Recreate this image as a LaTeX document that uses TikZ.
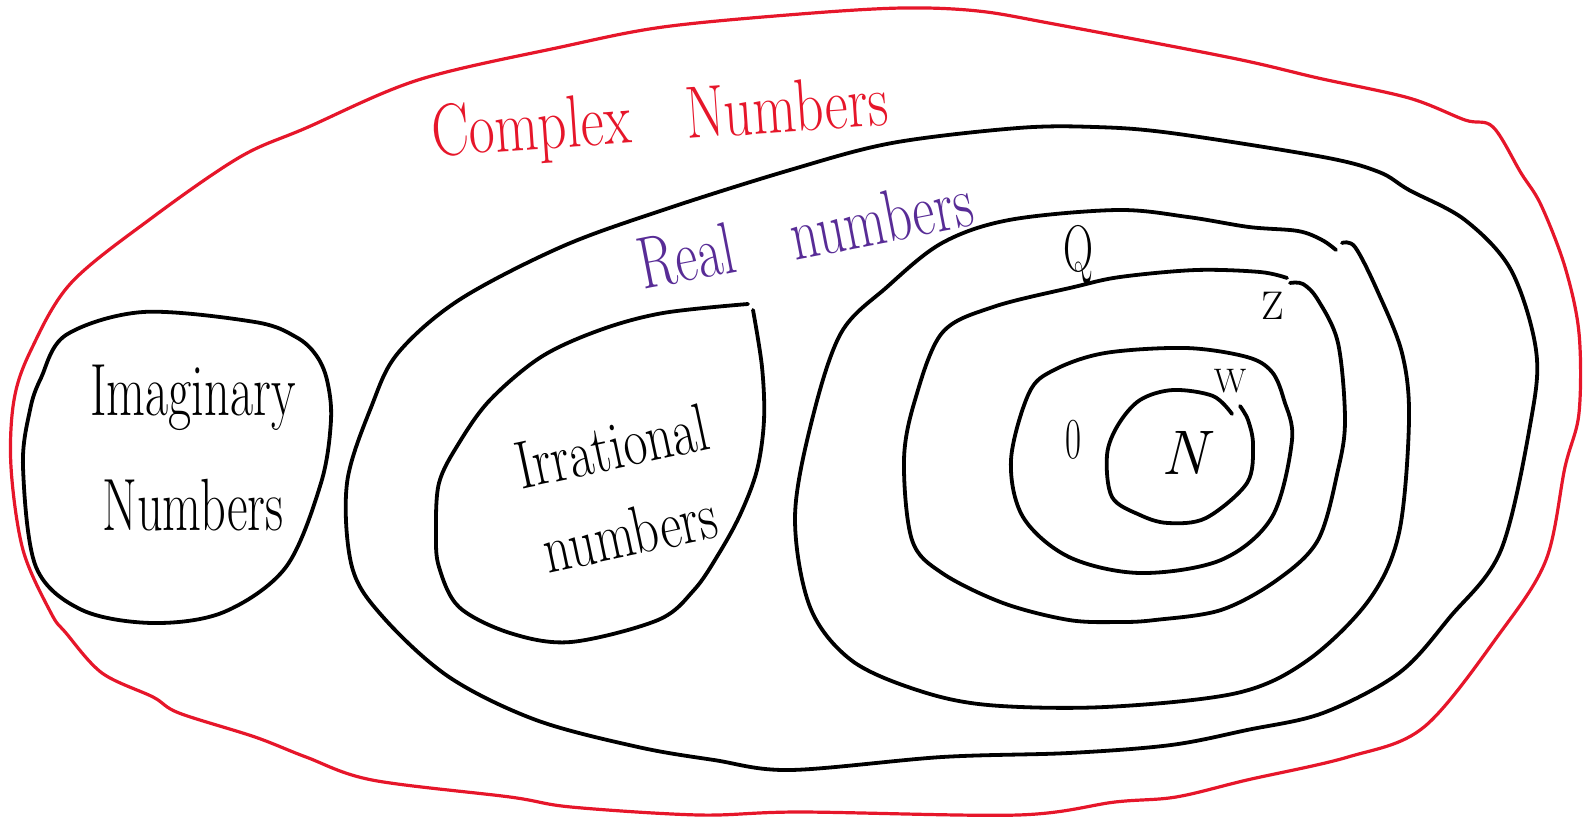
\documentclass[tikz,border=0pt]{standalone}
\usepackage{graphicx}
\definecolor{cred}{RGB}{230,22,42}
\definecolor{cpurple}{RGB}{88,44,150}
\begin{document}
\begin{tikzpicture}[x=1pt,y=-1pt,
  blk/.style={draw=black,line width=3.8pt,line cap=round,line join=round},
  redl/.style={draw=cred,line width=3.2pt,line cap=round,line join=round},
  lbl/.style={inner sep=0pt,text=black}]
\useasboundingbox (0,0) rectangle (1585,823);
% Complex numbers (red)
\draw[redl] plot[smooth cycle, tension=0.55] coordinates {
 (800,14) (902,8) (978,11) (1054,24) (1232,58) (1318,78) (1409,98) (1465,120) (1493,127)
 (1521,173) (1541,205) (1565,267) (1579,333) (1579,413) (1565,467) (1546,560) (1500,633)
 (1424,727) (1348,757) (1247,780) (1176,797) (1115,802) (1018,815) (800,812) (699,815)
 (571,807) (510,797) (372,780) (306,757) (255,737) (179,713) (153,697) (102,673) (66,633)
 (51,613) (23,550) (11,467) (14,400) (31,350) (71,283) (153,217) (240,157) (306,128)
 (418,80) (561,47) (663,27)};
% Real numbers
\draw[blk] plot[smooth cycle, tension=0.55] coordinates {
 (790,170) (892,143) (1018,128) (1095,127) (1171,133) (1323,157) (1379,172) (1409,190)
 (1465,220) (1511,270) (1536,350) (1531,420) (1501,550) (1450,617) (1399,673) (1323,713)
 (1247,730) (1171,745) (1069,753) (942,757) (790,770) (714,760) (638,747) (536,720)
 (449,677) (383,617) (352,567) (347,483) (372,405) (398,353) (459,300) (561,247) (663,210)};
% Imaginary numbers
\draw[blk] plot[smooth cycle, tension=0.55] coordinates {
 (66,335) (143,312) (255,322) (296,337) (316,355) (327,380) (331,420) (321,483) (286,567)
 (224,612) (153,623) (82,610) (36,567) (23,467) (30,410) (41,378)};
% Irrational numbers
\draw[blk] plot[smooth, tension=0.55] coordinates {
 (753,310) (762,367) (764,420) (757,470) (740,515) (718,555) (694,590) (658,620) (571,642) (510,633)
 (459,607) (439,567) (436,533) (439,483) (459,443) (490,400) (541,357) (600,330) (663,313)
 (748,304)};
% Q
\draw[blk] plot[smooth, tension=0.55] coordinates {
 (1342,243) (1355,247) (1377,290) (1402,353) (1409,420) (1399,533) (1369,600) (1308,660)
 (1237,693) (1105,707) (988,705) (917,690) (851,660) (810,607) (795,517) (812,420)
 (841,333) (887,287) (942,243) (1009,220) (1117,210) (1188,217) (1249,227) (1298,231)
 (1322,240) (1336,250)};
% Z
\draw[blk] plot[smooth, tension=0.55] coordinates {
 (1290,283) (1303,284) (1318,300) (1338,343) (1345,420) (1338,470) (1318,540) (1277,580)
 (1221,610) (1155,620) (1120,622) (1069,620) (1003,603) (942,573) (912,540) (904,460)
 (915,400) (942,333) (993,307) (1074,287) (1120,277) (1196,270) (1260,272) (1287,278)};
% W
\draw[blk] plot[smooth cycle, tension=0.55] coordinates {
 (1272,372) (1247,357) (1186,348) (1105,353) (1054,370) (1029,393) (1011,460) (1023,517)
 (1069,557) (1140,573) (1221,560) (1272,517) (1292,440) (1284,400)};
% N
\draw[blk] plot[smooth, tension=0.55] coordinates {
 (1232,414) (1213,396) (1173,390) (1140,400) (1118,425) (1107,455) (1112,497) (1140,515)
 (1168,523) (1206,518) (1247,483) (1253,445) (1248,420) (1240,406)};
% labels
\node[lbl, text=cred, rotate=4] (complex) at (660,122)
 {\fontsize{74}{80}\selectfont\scalebox{0.76}[1]{Complex\hspace{72pt}Numbers}};
\node[lbl, text=cpurple, rotate=11] (real) at (805,233)
 {\fontsize{74}{80}\selectfont\scalebox{0.73}[1]{Real\hspace{80pt}numbers}};
\node[lbl] (imag) at (193,450)
 {\fontsize{74}{115}\selectfont\scalebox{0.68}[1]{\begin{tabular}{@{}c@{}}Imaginary\\Numbers\end{tabular}}};
\node[lbl, rotate=12] (irr) at (622,495)
 {\fontsize{68}{88}\selectfont\scalebox{0.76}[1]{\begin{tabular}{@{}c@{}}Irrational\\numbers\end{tabular}}};
\node[lbl] (q) at (1078,255) {\fontsize{66}{70}\selectfont\scalebox{0.63}[1]{Q}};
\node[lbl] (z) at (1273,306) {\fontsize{40}{44}\selectfont Z};
\node[lbl] (w) at (1230,381) {\fontsize{34}{38}\selectfont W};
\node[lbl] (zero) at (1073,440) {\fontsize{58}{60}\selectfont\scalebox{0.6}[1]{0}};
\node[lbl] (n) at (1184,453) {\fontsize{63}{66}\selectfont\itshape N};
\end{tikzpicture}
\end{document}
